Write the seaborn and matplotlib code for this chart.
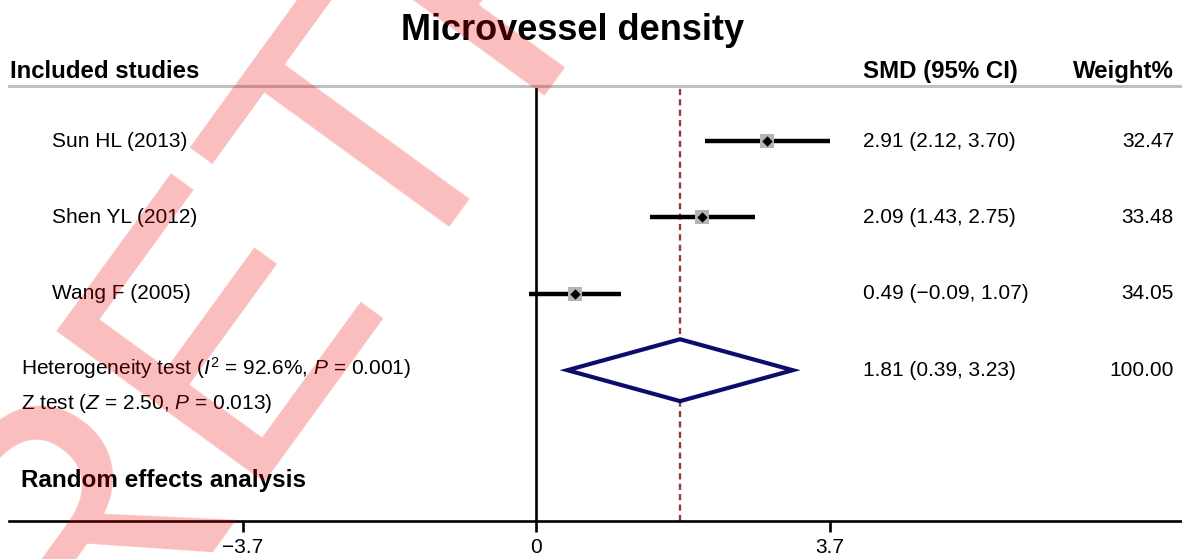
import matplotlib
matplotlib.use("Agg")
import matplotlib.pyplot as plt
from matplotlib.patches import Polygon
import seaborn as sns
import pandas as pd

# study level data
studies = ["Sun HL (2013)", "Shen YL (2012)", "Wang F (2005)"]
smd = [2.91, 2.09, 0.49]
ci_low = [2.12, 1.43, -0.09]
ci_high = [3.70, 2.75, 1.07]
weights = [32.47, 33.48, 34.05]

# pooled random effects estimate
pooled_smd = 1.81
pooled_low = 0.39
pooled_high = 3.23
pooled_weight = 100.00

tick_values = [-3.7, 0, 3.7]
tick_labels = ["\u22123.7", "0", "3.7"]

sns.set_theme(style="white")
plt.rcParams["font.family"] = ["Liberation Sans", "DejaVu Sans"]
plt.rcParams["text.color"] = "black"
plt.rcParams["mathtext.fontset"] = "custom"
plt.rcParams["mathtext.rm"] = "Liberation Sans"
plt.rcParams["mathtext.it"] = "Liberation Sans:italic"

df = pd.DataFrame({"study": studies, "smd": smd, "low": ci_low,
                   "high": ci_high, "weight": weights})
df["row"] = range(len(df))
pooled_row = len(df)

fig = plt.figure(figsize=(11.82, 5.59), dpi=100)
ax = fig.add_axes([9 / 1182, 38 / 559, 1 - 9 / 1182, 435 / 559])
ax.set_xlim(-6.645, 8.134)
ax.set_ylim(4.974, -0.72)

# axes frame: bottom is the x axis, top is the grey header rule
for side in ["left", "right"]:
    ax.spines[side].set_visible(False)
ax.spines["bottom"].set_color("black")
ax.spines["bottom"].set_linewidth(1.9)
ax.spines["top"].set_color("#c0c0c0")
ax.spines["top"].set_linewidth(2.2)
ax.set_yticks([])
ax.set_xticks(tick_values)
ax.set_xticklabels(tick_labels)
ax.tick_params(axis="x", bottom=True, length=8, width=1.9, color="black",
               labelsize=15, pad=4, labelcolor="black")

ax.axvline(0, color="black", lw=1.9, zorder=1)
ax.axvline(pooled_smd, color="#963a40", lw=1.7, dashes=(2.6, 1.8), zorder=1)

# confidence intervals and point estimates
ax.hlines(df["row"], df["low"], df["high"], color="black", lw=3.2, zorder=2)
sns.scatterplot(data=df, x="smd", y="row", marker="s", s=95, color="#b4b4b4",
                linewidth=0, ax=ax, zorder=3, legend=False)
sns.scatterplot(data=df, x="smd", y="row", marker="D", s=28, color="black",
                linewidth=0, ax=ax, zorder=4, legend=False)
ax.set_xlabel("")
ax.set_ylabel("")

# pooled diamond
half_h = 0.405
diamond = Polygon([(pooled_low, pooled_row), (pooled_smd, pooled_row - half_h),
                   (pooled_high, pooled_row), (pooled_smd, pooled_row + half_h)],
                  closed=True, facecolor="white", edgecolor="#0c0c6c", lw=3, zorder=3)
ax.add_patch(diamond)

# text columns
name_x = -6.103
left_x = -6.494
smd_x = 4.115
weight_x = 8.033
for _, r in df.iterrows():
    ax.text(name_x, r["row"], r["study"], fontsize=15, va="center", ha="left")
    lab = f"{r['smd']:.2f} ({r['low']:.2f}, {r['high']:.2f})".replace("-", "\u2212")
    ax.text(smd_x, r["row"], lab, fontsize=15, va="center", ha="left")
    ax.text(weight_x, r["row"], f"{r['weight']:.2f}", fontsize=15, va="center", ha="right")

ax.text(smd_x, pooled_row, f"{pooled_smd:.2f} ({pooled_low:.2f}, {pooled_high:.2f})",
        fontsize=15, va="center", ha="left")
ax.text(weight_x, pooled_row, f"{pooled_weight:.2f}", fontsize=15, va="center", ha="right")

ax.text(left_x, pooled_row - 0.03, r"Heterogeneity test ($I^2$ = 92.6%, $P$ = 0.001)",
        fontsize=15, va="center", ha="left")
ax.text(left_x, 3.44, r"Z test ($Z$ = 2.50, $P$ = 0.013)",
        fontsize=15, va="center", ha="left")
ax.text(left_x, 4.45, "Random effects analysis", fontsize=17.5, fontweight="bold",
        va="center", ha="left")

# headers and title
fig.text(10 / 1182, 1 - 78 / 559, "Included studies", fontsize=17.3, fontweight="bold",
         ha="left", va="baseline")
fig.text(863 / 1182, 1 - 78 / 559, "SMD (95% CI)", fontsize=17.3, fontweight="bold",
         ha="left", va="baseline")
fig.text(1174 / 1182, 1 - 78 / 559, "Weight%", fontsize=17.3, fontweight="bold",
         ha="right", va="baseline")
fig.text(573 / 1182, 1 - 40 / 559, "Microvessel density", fontsize=26, fontweight="bold",
         ha="center", va="baseline")

# retraction stamp across the figure
fig.text(0.0643, -0.252, "RETRACTED", fontsize=269, color="#f00000", alpha=0.26,
         rotation=54, rotation_mode="anchor", ha="left", va="baseline", zorder=10)

fig.savefig("out.png", dpi=100)
